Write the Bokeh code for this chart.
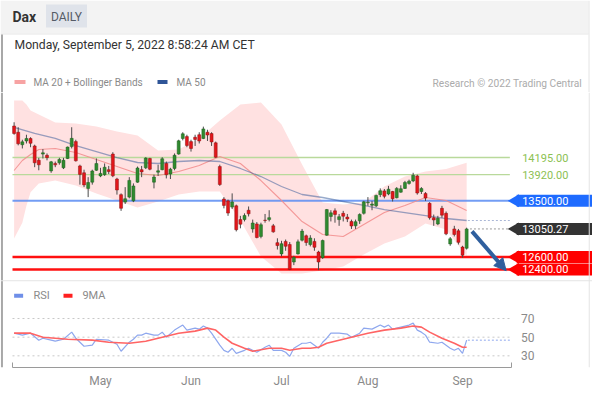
import numpy as np
from bokeh.plotting import figure
from bokeh.models import Range1d, FixedTicker, Span, Arrow, NormalHead
from bokeh.layouts import column
from bokeh.embed import file_html
from bokeh.resources import INLINE
from bokeh.core.properties import value

FONT = value("Roboto")

# ---------------- data (trading-day index 0 = 30 Mar 2022 ... 110 = 2 Sep 2022) ----------------
month_pos = [21, 43, 65, 86, 109]
month_labels = ["May", "Jun", "Jul", "Aug", "Sep"]

opens = [14700, 14600, 14400, 14460, 14500, 14380, 14150, 14250, 14230, 13980,
         14100, 14110, 14030, 14180, 14370, 14450, 14060, 13950, 13700, 13800,
         13990, 13900, 13920, 14000, 14250, 13850, 13600, 13480, 13560, 13500,
         13800, 14000, 14030, 14180, 13800, 13960, 14000, 14100, 13930, 14020,
         14250, 14500, 14530, 14450, 14520, 14560, 14500, 14600, 14580, 14430,
         14050, 13530, 13500, 13400, 13420, 13200, 13200, 13350, 13050, 13130,
         12930, 13190, 13200, 13100, 12830, 12650, 12850, 12800, 12520, 12650,
         12870, 12940, 12800, 12850, 12680, 12590, 12950, 13250, 13340, 13200,
         13300, 13240, 13170, 13100, 13180, 13300, 13470, 13430, 13420, 13600,
         13660, 13610, 13650, 13550, 13640, 13700, 13780, 13820, 13900, 13650,
         13620, 13460, 13230, 13130, 13380, 13300, 12810, 13050, 13020, 12760,
         12740]
highs = [14760, 14680, 14480, 14560, 14520, 14400, 14190, 14330, 14260, 14140,
         14130, 14190, 14190, 14370, 14680, 14480, 14080, 14000, 13880, 14000,
         14180, 14030, 14100, 14060, 14280, 13870, 13620, 13720, 13880, 13780,
         14050, 14060, 14200, 14190, 13920, 14080, 14200, 14130, 14030, 14260,
         14480, 14600, 14560, 14480, 14560, 14600, 14690, 14640, 14600, 14450,
         14080, 13560, 13520, 13620, 13440, 13260, 13300, 13410, 13200, 13160,
         13150, 13290, 13350, 13130, 12900, 12860, 12880, 12840, 12620, 12880,
         13050, 12960, 12950, 12900, 12700, 12880, 13370, 13350, 13380, 13290,
         13340, 13290, 13200, 13200, 13300, 13500, 13560, 13500, 13600, 13700,
         13690, 13740, 13660, 13720, 13750, 13820, 13840, 13950, 13920, 13720,
         13640, 13480, 13280, 13260, 13420, 13330, 12920, 13100, 13050, 12780,
         13070]
lows = [14560, 14390, 14340, 14420, 14360, 14040, 13990, 14180, 14150, 13950,
        14040, 14080, 14010, 14170, 14340, 14130, 13760, 13720, 13560, 13760,
        13980, 13880, 13900, 13930, 13880, 13600, 13340, 13450, 13540, 13480,
        13790, 13880, 14010, 13990, 13700, 13900, 13990, 13860, 13850, 13990,
        14240, 14470, 14360, 14290, 14380, 14420, 14490, 14460, 14380, 14190,
        13740, 13380, 13260, 13370, 13010, 13060, 13170, 13250, 12990, 12900,
        12900, 13150, 13170, 12990, 12720, 12610, 12700, 12390, 12470, 12640,
        12850, 12780, 12770, 12700, 12390, 12570, 12940, 13170, 13150, 13100,
        13170, 13160, 13050, 13050, 13130, 13280, 13420, 13350, 13400, 13560,
        13540, 13590, 13490, 13540, 13630, 13690, 13760, 13800, 13600, 13610,
        13500, 13200, 13100, 13110, 13230, 12950, 12780, 12930, 12800, 12590,
        12720]
closes = [14580, 14415, 14446, 14500, 14424, 14110, 14078, 14270, 14193, 14125,
          14077, 14163, 14150, 14362, 14502, 14142, 13924, 13756, 13794, 13979,
          14098, 13940, 14039, 13970, 13902, 13674, 13381, 13534, 13828, 13739,
          14027, 13964, 14186, 14007, 13882, 13982, 14175, 13919, 14008, 14231,
          14462, 14575, 14388, 14340, 14485, 14460, 14653, 14556, 14445, 14199,
          13762, 13427, 13304, 13483, 13038, 13126, 13266, 13292, 13145, 12912,
          13118, 13186, 13231, 13003, 12784, 12813, 12773, 12401, 12595, 12843,
          13015, 12832, 12905, 12756, 12520, 12864, 13360, 13308, 13282, 13246,
          13254, 13210, 13097, 13166, 13282, 13484, 13479, 13449, 13587, 13662,
          13573, 13687, 13535, 13700, 13694, 13795, 13816, 13910, 13626, 13697,
          13545, 13230, 13194, 13221, 13271, 12971, 12892, 12961, 12835, 12630,
          13050.27]

band_idx = [0, 2, 3, 4, 6, 10, 15, 20, 25, 30, 35, 40, 45, 50, 55, 60, 65, 70, 75, 80,
            85, 90, 95, 100, 105, 110]
band_upper = [15109, 15109, 15045, 14948, 14884, 14756, 14740, 14692, 14612, 14548,
              14307, 14323, 14500, 14788, 15045, 15077, 14724, 14083, 13474, 13440,
              13474, 13730, 13890, 13971, 14010, 14111]
band_lower = [12897, 13150, 13420, 13640, 13778, 13826, 13746, 13618, 13506, 13393,
              13490, 13602, 13650, 13650, 13185, 12608, 12336, 12336, 12384, 12448,
              12640, 12816, 12929, 13137, 13041, 12615]

ma20_idx = [0, 2, 4, 6, 10, 15, 20, 25, 30, 35, 40, 45, 50, 55, 60, 65, 70, 75, 80,
            85, 90, 95, 100, 105, 110]
ma20_val = [13987, 14147, 14243, 14323, 14339, 14275, 14163, 14051, 13939, 13906,
            13971, 14067, 14211, 14099, 13826, 13506, 13169, 12961, 12929, 13121,
            13313, 13426, 13554, 13506, 13345]

ma50_idx = [0, 5, 10, 15, 20, 25, 30, 35, 40, 45, 50, 55, 60, 65, 70, 75, 80, 85, 90,
            95, 100, 105, 110]
ma50_val = [14676, 14580, 14500, 14387, 14291, 14195, 14115, 14099, 14131, 14147,
            14131, 14019, 13890, 13730, 13602, 13554, 13490, 13426, 13361, 13313,
            13265, 13217, 13185]

rsi_idx = [0, 2, 4, 6, 7, 9, 10, 12, 14, 15, 17, 19, 20, 23, 25, 26, 28, 29, 30, 31,
           32, 34, 35, 36, 37, 39, 41, 42, 44, 45, 46, 47, 48, 50, 51, 52, 53, 54, 56, 57,
           59, 61, 62, 63, 65, 66, 67, 68, 70, 71, 72, 73, 74, 75, 76, 77, 79, 81, 82, 84,
           85, 87, 89, 90, 91, 92, 94, 96, 97, 98, 99, 100, 101, 103, 104, 106, 107, 108,
           109, 110]
rsi_val = [54.3, 52.2, 54.3, 46.8, 48.9, 46.8, 45.7, 47.8, 55.4, 48.9,
           40.3, 41.4, 47.8, 46.8, 42.4, 34.9, 44.6, 47.8, 52.2, 52.2,
           54.3, 52.2, 52.2, 55.4, 50.0, 57.6, 63.0, 57.6, 59.7, 58.6,
           61.9, 59.7, 54.3, 41.4, 35.9, 33.8, 38.1, 32.7, 35.9, 38.1,
           33.8, 39.2, 41.4, 35.9, 35.9, 33.8, 29.5, 38.1, 43.5, 43.5,
           44.6, 41.4, 38.1, 44.6, 48.9, 54.3, 54.3, 53.2, 50.0, 54.3,
           59.7, 58.6, 63.0, 60.8, 63.0, 58.6, 60.8, 63.0, 65.1, 57.6,
           55.4, 52.2, 44.6, 43.5, 44.6, 38.1, 35.9, 38.1, 32.7, 46.8]
ma9_idx = [0, 4, 7, 13, 19, 23, 28, 32, 36, 40, 44, 47, 49, 51, 53, 56, 58, 62, 65, 67,
           70, 72, 74, 76, 79, 82, 86, 90, 94, 97, 99, 101, 104, 107, 109, 110]
ma9_val = [54.3, 54.3, 50.0, 47.8, 46.8, 44.6, 43.5, 45.7, 50.0, 54.3,
           56.5, 59.7, 57.6, 50.0, 43.5, 38.1, 34.9, 38.1, 38.1, 35.9,
           38.1, 38.1, 39.2, 43.5, 46.8, 50.0, 54.3, 57.6, 59.7, 61.9,
           60.8, 55.4, 48.9, 43.5, 39.2, 39.2]

rsi_levels = [70, 50, 30]
green_levels = [14195.00, 13920.00]
blue_levels = [13500.00]
red_levels = [12600.00, 12400.00]
last_price = 13050.27

# ---------------- colours ----------------
UP, DOWN, WICK = "#2f8a2f", "#e3161b", "#4a4a4a"
BAND, MA20_C, MA50_C = "#ffe1e1", "#f28b8b", "#2f5597"
GREEN_L, GREEN_T = "#b9d99b", "#8cc152"
BLUE_L, BLUE_B = "#5b8cf2", "#1e6bff"
RED_L, RED_B = "#ff1010", "#ff0000"
DARK_B = "#333333"
RSI_C, RSI_MA_C = "#8ea7ee", "#ff6464"
BORDER_L, BORDER_R = "#a8a8a8", "#e4e4e4"

W = 592

# ---------------- header ----------------
h = figure(width=W, height=92, x_range=Range1d(0, W), y_range=Range1d(92, 0),
           output_backend="svg", toolbar_location=None,
           x_axis_location=None, y_axis_location=None, min_border=0)
h.grid.visible = False
h.outline_line_color = None
h.quad(left=[0], right=[588], top=[0], bottom=[33], fill_color="#f3f3f3", line_color=None)
h.segment(x0=[0], x1=[588], y0=[33.5], y1=[33.5], line_color="#e6e6e6", line_width=1)
h.segment(x0=[1.5], x1=[1.5], y0=[34], y1=[92], line_color=BORDER_L, line_width=2)
h.segment(x0=[588.5], x1=[588.5], y0=[0], y1=[92], line_color=BORDER_R, line_width=1)
h.quad(left=[45.5], right=[86.5], top=[4], bottom=[27], fill_color="#dfe3ea", line_color=None)
h.text(x=[12], y=[16.5], text=["Dax"], text_font=FONT, text_font_style="bold",
       text_font_size="14px", text_color="#333333", text_baseline="middle")
h.text(x=[66], y=[16], text=["DAILY"], text_font=FONT, text_font_size="12px",
       text_color="#555b66", text_baseline="middle", text_align="center")
h.text(x=[14], y=[44.5], text=["Monday, September 5, 2022 8:58:24 AM CET"], text_font=FONT,
       text_font_size="12.2px", text_color="#333333", text_baseline="middle")
h.rect(x=[19.5], y=[81.5], width=11, height=4, fill_color="#f7a3a3", line_color=None)
h.text(x=[33], y=[82], text=["MA 20 + Bollinger Bands"], text_font=FONT,
       text_font_size="10px", text_color="#8a8a8a", text_baseline="middle")
h.rect(x=[162], y=[81.5], width=10, height=4, fill_color=MA50_C, line_color=None)
h.text(x=[176], y=[82], text=["MA 50"], text_font=FONT,
       text_font_size="10px", text_color="#8a8a8a", text_baseline="middle")
h.text(x=[581.5], y=[82.5], text=["Research \u00a9 2022 Trading Central"], text_font=FONT,
       text_font_size="10.2px", text_color="#ababab", text_baseline="middle", text_align="right")

# ---------------- main chart (price + RSI share x) ----------------
X_LEFT, X_RIGHT = -3.306, 140.59       # whole figure width is the frame
AX_START, AX_END = -0.39, 120.9         # visible extent of the x axis line
LINE_END = 120.5
p = figure(width=W, height=302, x_range=Range1d(X_LEFT, X_RIGHT),
           y_range=Range1d(10829, 15237), output_backend="svg", toolbar_location=None,
           y_axis_location=None, min_border_left=0, min_border_right=0,
           min_border_top=0, min_border_bottom=27)
p.extra_y_ranges = {"rsi": Range1d(17.5, 312.3)}
p.xgrid.visible = False
p.ygrid.visible = False
p.outline_line_color = None

ax = p.xaxis[0]
ax.ticker = FixedTicker(ticks=month_pos, minor_ticks=[-0.3, 120.8])
ax.major_label_overrides = {k: v for k, v in zip(month_pos, month_labels)}
ax.bounds = (AX_START, AX_END)
ax.axis_line_color = "#9a9a9a"
ax.major_tick_line_color = None
ax.major_tick_in = 0
ax.major_tick_out = 0
ax.minor_tick_in = 5
ax.minor_tick_out = 0
ax.minor_tick_line_color = "#9a9a9a"
ax.major_label_text_color = "#8a8a8a"
ax.major_label_text_font = "Roboto"
ax.major_label_text_font_size = "12px"
ax.major_label_standoff = 6

# widget borders
p.add_layout(Span(location=-2.95, dimension="height", line_color=BORDER_L, line_width=2))
p.add_layout(Span(location=139.8, dimension="height", line_color=BORDER_R, line_width=1))

# Bollinger band
p.varea(x=band_idx, y1=band_lower, y2=band_upper, fill_color=BAND, fill_alpha=1.0)

# horizontal levels
p.segment(x0=AX_START, x1=LINE_END, y0=green_levels, y1=green_levels, line_color=GREEN_L, line_width=1.3)
p.segment(x0=AX_START, x1=LINE_END, y0=blue_levels, y1=blue_levels, line_color=BLUE_L, line_width=2, line_alpha=0.85)
p.segment(x0=AX_START, x1=LINE_END, y0=red_levels, y1=red_levels, line_color=RED_L, line_width=2.4)

# moving averages
p.line(ma20_idx, ma20_val, line_color=MA20_C, line_width=1.1, line_alpha=0.85)
p.line(ma50_idx, ma50_val, line_color=MA50_C, line_width=1.3, line_alpha=0.5)

# candles
xi = np.arange(len(closes))
o = np.array(opens, float)
c = np.array(closes, float)
up = c >= o
p.segment(x0=xi, x1=xi, y0=highs, y1=lows, line_color=WICK, line_width=1)
p.vbar(x=xi[up], width=0.72, top=c[up], bottom=o[up], fill_color=UP, line_color="#1f5f1f", line_width=0.5)
p.vbar(x=xi[~up], width=0.72, top=o[~up], bottom=c[~up], fill_color=DOWN, line_color="#8a1010", line_width=0.5)

# dotted extensions of last values
last_i = len(closes) - 1
p.segment(x0=[last_i + 0.8], x1=[LINE_END], y0=[last_price], y1=[last_price],
          line_color="#9a9a9a", line_dash="2 2", line_width=1)
p.segment(x0=[ma50_idx[-1] + 0.3], x1=[LINE_END], y0=[ma50_val[-1]], y1=[ma50_val[-1]],
          line_color="#a9b6d6", line_dash="2 2", line_width=1)

# trend arrow
ARROW_C = "#2f5f9e"
p.add_layout(Arrow(end=NormalHead(size=12, fill_color=ARROW_C, line_color=ARROW_C),
                   x_start=last_i + 1.3, y_start=last_price - 40,
                   x_end=last_i + 9.6, y_end=red_levels[1] - 20,
                   line_color=ARROW_C, line_width=4))

# right-hand price labels
LBL_X, BADGE_X, NOTCH_X = 123.5, 131.4, 121.8
p.text(x=LBL_X, y=green_levels, text=["%.2f" % v for v in green_levels], text_font=FONT,
       text_font_size="11px", text_color=GREEN_T, text_baseline="middle")
for levels, col in ((blue_levels, BLUE_B), ([last_price], DARK_B), (red_levels, RED_B)):
    p.rect(x=BADGE_X, y=levels, width=76, height=12, width_units="screen", height_units="screen",
           fill_color=col, line_color=None)
    p.scatter(x=NOTCH_X, y=levels, marker="triangle", size=13, angle=np.pi / 2,
              fill_color=col, line_color=None)
    p.text(x=LBL_X, y=levels, text=["%.2f" % v for v in levels], text_font=FONT,
           text_font_size="11px", text_color="white", text_baseline="middle")

# ---------------- RSI panel ----------------
p.add_layout(Span(location=110.5, dimension="width", y_range_name="rsi",
                  line_color="#e4e4e4", line_width=1))
p.segment(x0=AX_START, x1=LINE_END, y0=rsi_levels, y1=rsi_levels, y_range_name="rsi",
          line_color="#c8c8c8", line_dash="2 3", line_width=1)
p.text(x=123.2, y=rsi_levels, text=[str(v) for v in rsi_levels], y_range_name="rsi",
       text_font=FONT, text_font_size="12px", text_color="#8a8a8a", text_baseline="middle")
p.line(rsi_idx, rsi_val, y_range_name="rsi", line_color=RSI_C, line_width=1.2)
p.line(ma9_idx, ma9_val, y_range_name="rsi", line_color=RSI_MA_C, line_width=1.6)
p.segment(x0=[rsi_idx[-1] + 0.3], x1=[LINE_END], y0=[rsi_val[-1]], y1=[rsi_val[-1]],
          y_range_name="rsi", line_color=RSI_C, line_dash="2 2", line_width=1)

# RSI legend
p.rect(x=[1.1], y=[94.5], width=9, height=4, width_units="screen", height_units="screen",
       y_range_name="rsi", fill_color="#6f8fe8", line_color=None)
p.text(x=[4.7], y=[94.5], text=["RSI"], y_range_name="rsi", text_font=FONT,
       text_font_size="11px", text_color="#8a8a8a", text_baseline="middle")
p.rect(x=[13.1], y=[94.5], width=9, height=4, width_units="screen", height_units="screen",
       y_range_name="rsi", fill_color="#ff2020", line_color=None)
p.text(x=[16.6], y=[94.5], text=["9MA"], y_range_name="rsi", text_font=FONT,
       text_font_size="11px", text_color="#8a8a8a", text_baseline="middle")

layout = column(h, p)
open("out.html", "w").write(file_html(layout, INLINE))
